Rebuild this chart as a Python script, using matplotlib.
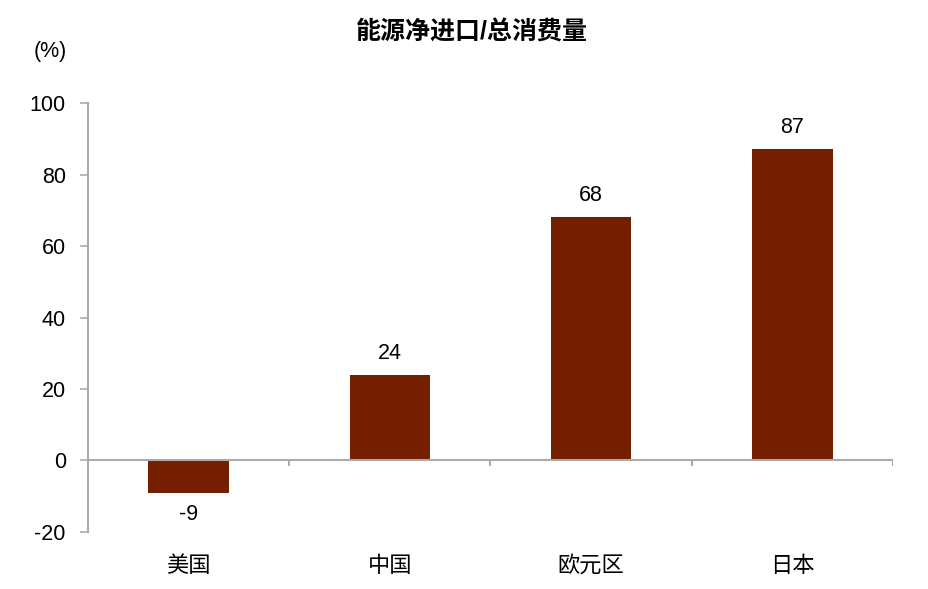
import matplotlib
matplotlib.use("Agg")
import matplotlib.pyplot as plt
import numpy as np

categories = ["美国", "中国", "欧元区", "日本"]
values = [-9, 24, 68, 87]
yticks = [-20, 0, 20, 40, 60, 80, 100]

plt.rcParams['font.family'] = ['Liberation Sans', 'Noto Sans CJK SC']

bar_color = "#731f00"
axis_grey = "#ababab"

fig = plt.figure(figsize=(9.29, 5.89), dpi=100)
ax = fig.add_axes([0.0947, 0.0968, 0.8665, 0.7283])

x = np.arange(len(categories))
ax.bar(x, values, width=0.4, color=bar_color, zorder=2)

# value labels
for xi, v in zip(x, values):
    if v >= 0:
        ax.annotate(str(v), (xi, v), xytext=(0, 8), textcoords="offset points",
                    ha="center", va="bottom", fontsize=15.5)
    else:
        ax.annotate(str(v), (xi, v), xytext=(0, -8), textcoords="offset points",
                    ha="center", va="top", fontsize=15.5)

ax.set_xlim(-0.5, len(categories) - 0.5)
ax.set_ylim(yticks[0], yticks[-1])
ax.set_yticks(yticks)
ax.set_yticklabels([str(t) for t in yticks], fontsize=15.5)

ax.set_xticks(x)
ax.set_xticklabels(categories, fontsize=16)
ax.tick_params(axis="x", length=0, pad=17)
ax.tick_params(axis="y", length=6, width=1.2, color=axis_grey, pad=10)

for side in ["top", "right", "bottom"]:
    ax.spines[side].set_visible(False)
ax.spines["left"].set_color(axis_grey)
ax.spines["left"].set_linewidth(1.5)

# zero line with category boundary ticks
ax.axhline(0, color=axis_grey, linewidth=1.5, zorder=3)
bounds = np.arange(len(categories)) + 0.5
ax.vlines(bounds, -1.6, 0, color=axis_grey, linewidth=1.5, zorder=3)

fig.text(0.508, 0.945, "能源净进口/总消费量", ha="center", va="center",
         fontsize=18, fontweight="bold")
fig.text(0.054, 0.913, "(%)", ha="center", va="center", fontsize=15.5)

fig.savefig("out.png", dpi=100)
